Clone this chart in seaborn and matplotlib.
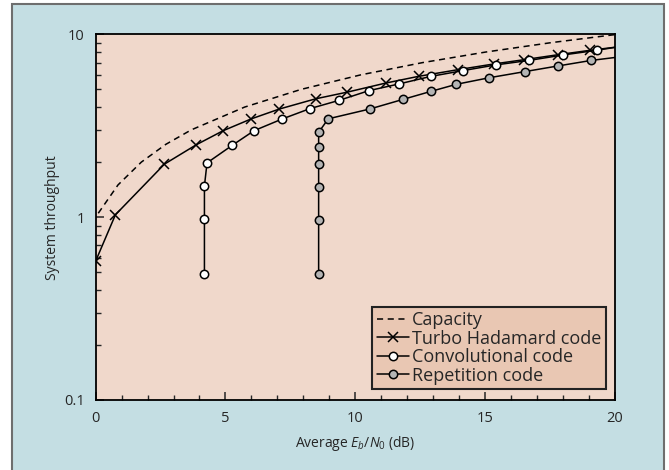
"""
System throughput vs average Eb/N0
"""

import matplotlib
matplotlib.use("Agg")
import matplotlib.pyplot as plt
from matplotlib.patches import Rectangle
from matplotlib.ticker import LogLocator, FixedLocator, NullFormatter
import numpy as np
import pandas as pd
import seaborn as sns

# capacity (dashed)
cap_x = [0.1, 0.86, 1.76, 2.70, 3.68, 5.74, 7.92, 10.21, 12.59, 15.03, 17.54, 20.1]
cap_y = [1.05, 1.5, 2.0, 2.5, 3.0, 4.0, 5.0, 6.0, 7.0, 8.0, 9.0, 10.0]

# turbo Hadamard code (x markers)
turbo_x = [0.0, 0.76, 2.65, 3.88, 4.91, 6.0, 7.07, 8.48, 9.70, 11.17, 12.44,
           13.97, 15.33, 16.52, 17.83, 19.06, 20.6]
turbo_y = [0.575, 1.03, 1.95, 2.49, 2.97, 3.45, 3.90, 4.44, 4.83, 5.41, 5.89,
           6.41, 6.88, 7.27, 7.74, 8.18, 8.7]

# convolutional code (open circles)
conv_x = [4.19, 4.19, 4.19, 4.29, 5.26, 6.10, 7.18, 8.25, 9.37, 10.53, 11.68,
          12.92, 14.15, 15.41, 16.70, 18.01, 19.31, 20.6]
conv_y = [0.49, 0.98, 1.48, 1.98, 2.47, 2.97, 3.44, 3.92, 4.35, 4.92, 5.35,
          5.89, 6.33, 6.80, 7.20, 7.71, 8.18, 8.75]

# repetition code (grey circles)
rep_x = [8.59, 8.59, 8.59, 8.59, 8.59, 8.59, 8.96, 10.55, 11.85, 12.93, 13.90,
         15.17, 16.53, 17.80, 19.10, 20.6]
rep_y = [0.486, 0.967, 1.47, 1.95, 2.43, 2.91, 3.45, 3.90, 4.41, 4.88, 5.33,
         5.79, 6.25, 6.71, 7.20, 7.65]

sns.set_style("ticks")
plt.rcParams['font.family'] = ['Open Sans', 'DejaVu Sans']
plt.rcParams['mathtext.fontset'] = 'custom'
plt.rcParams['mathtext.it'] = 'Open Sans:italic'
plt.rcParams['mathtext.rm'] = 'Open Sans'

fig = plt.figure(figsize=(6.69, 4.70), dpi=100, facecolor='white')

# blue panel with grey frame (bottom edge runs off the picture)
fig.patches.append(Rectangle((0.018, -0.05), 0.9745, 1.0415, transform=fig.transFigure,
                             facecolor='#c4dee3', edgecolor='#6e6e6e', linewidth=1.5,
                             zorder=-5))

ax = fig.add_axes([0.143, 0.149, 0.776, 0.778])
ax.set_zorder(1)
ax.set_facecolor('#f0d8cb')

line_kw = dict(color='black', linewidth=1.1, sort=False, estimator=None, ax=ax)

sns.lineplot(data=pd.DataFrame({'x': cap_x, 'y': cap_y}), x='x', y='y',
             linestyle=(0, (4, 3)), label='Capacity', **line_kw)
sns.lineplot(data=pd.DataFrame({'x': turbo_x, 'y': turbo_y}), x='x', y='y',
             marker='x', markersize=7, markeredgewidth=1.1, markeredgecolor='black',
             label='Turbo Hadamard code', **line_kw)
sns.lineplot(data=pd.DataFrame({'x': conv_x, 'y': conv_y}), x='x', y='y',
             marker='o', markersize=6, markerfacecolor='white', markeredgecolor='black',
             markeredgewidth=1.1, label='Convolutional code', **line_kw)
sns.lineplot(data=pd.DataFrame({'x': rep_x, 'y': rep_y}), x='x', y='y',
             marker='o', markersize=6, markerfacecolor='#b4b4b4', markeredgecolor='black',
             markeredgewidth=1.1, label='Repetition code', **line_kw)

ax.set_yscale('log')
ax.set_xlim(0, 20)
ax.set_ylim(0.1, 10)
ax.set_yticks([0.1, 1, 10])
ax.set_yticklabels(['0.1', '1', '10'])
ax.yaxis.set_minor_locator(LogLocator(base=10, subs=np.arange(2, 10)))
ax.yaxis.set_minor_formatter(NullFormatter())
ax.set_xticks([0, 5, 10, 15, 20])
ax.xaxis.set_minor_locator(FixedLocator(range(0, 21)))

for s in ax.spines.values():
    s.set_linewidth(1.3)
    s.set_color('black')
    s.set_visible(True)

ax.tick_params(which='major', direction='in', length=6, width=1.1, labelsize=10.5,
               pad=8, top=False, right=False)
ax.tick_params(which='minor', direction='in', length=3.5, width=1.0,
               top=False, right=False)

ax.set_xlabel('Average $E_b/N_0$ (dB)', fontsize=10, labelpad=6)
ax.set_ylabel('System throughput', fontsize=10, labelpad=3)

leg = ax.legend(loc='lower right', bbox_to_anchor=(0.99, 0.02), fontsize=13,
                frameon=True, fancybox=False, handlelength=1.8, handletextpad=0.15,
                borderpad=0.25, labelspacing=0.02, borderaxespad=0.2)
frame = leg.get_frame()
frame.set_facecolor('#e9c7b3')
frame.set_edgecolor('#222222')
frame.set_linewidth(1.5)
frame.set_alpha(1)

plt.savefig('out.png', dpi=100)
